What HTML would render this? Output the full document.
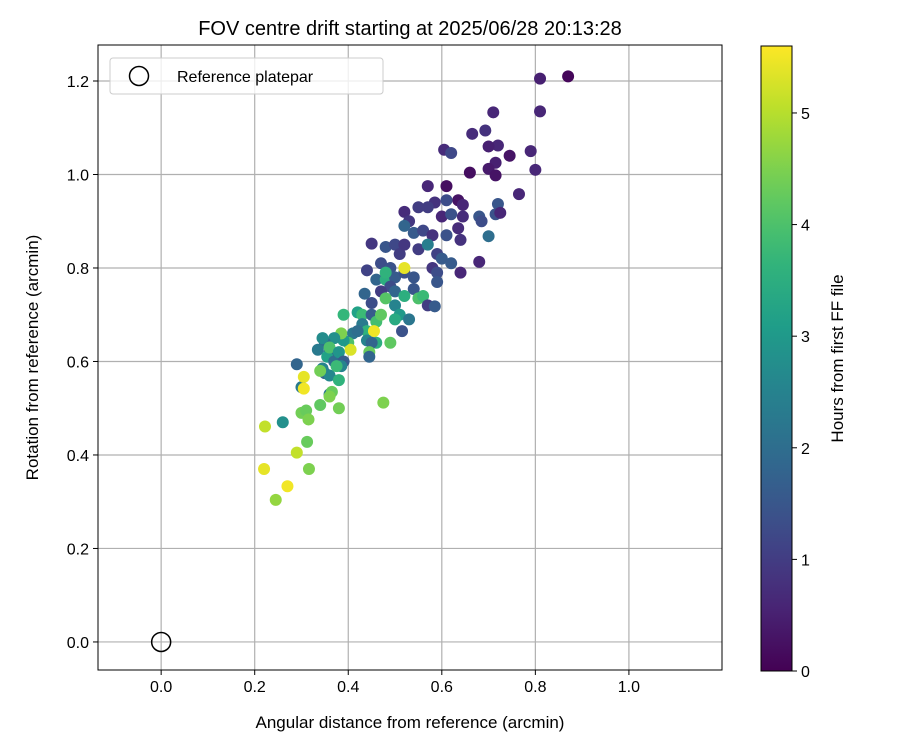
<!DOCTYPE html>
<html><head><meta charset="utf-8"><style>
body{margin:0;background:#fff;font-family:"Liberation Sans",sans-serif}
</style></head><body>
<svg id="c" width="900" height="750" xmlns="http://www.w3.org/2000/svg" font-family="Liberation Sans, DejaVu Sans, sans-serif"></svg>
<script>
const xs=[0.87,0.81,0.81,0.71,0.665,0.693,0.72,0.70,0.605,0.62,0.745,0.79,0.80,0.715,0.70,0.66,0.715,0.765,0.57,0.61,0.635,0.645,0.61,0.585,0.57,0.60,0.645,0.62,0.72,0.715,0.725,0.68,0.685,0.52,0.53,0.55,0.52,0.54,0.56,0.58,0.635,0.64,0.61,0.70,0.45,0.48,0.50,0.51,0.47,0.49,0.52,0.55,0.57,0.59,0.60,0.58,0.62,0.59,0.59,0.68,0.64,0.44,0.46,0.48,0.50,0.52,0.54,0.49,0.50,0.47,0.435,0.45,0.54,0.55,0.56,0.57,0.585,0.52,0.48,0.50,0.51,0.50,0.53,0.515,0.52,0.48,0.42,0.39,0.43,0.45,0.46,0.47,0.43,0.44,0.41,0.42,0.455,0.46,0.44,0.45,0.49,0.445,0.445,0.40,0.405,0.39,0.385,0.37,0.36,0.35,0.345,0.335,0.355,0.36,0.37,0.38,0.39,0.385,0.35,0.36,0.345,0.34,0.375,0.38,0.29,0.30,0.305,0.305,0.36,0.365,0.36,0.34,0.38,0.475,0.30,0.31,0.315,0.222,0.26,0.312,0.29,0.22,0.316,0.27,0.245];
const ys=[1.21,1.205,1.135,1.133,1.087,1.094,1.062,1.06,1.053,1.046,1.04,1.05,1.01,1.025,1.012,1.004,0.998,0.958,0.975,0.975,0.945,0.935,0.945,0.94,0.93,0.91,0.91,0.915,0.937,0.915,0.918,0.91,0.9,0.92,0.9,0.93,0.89,0.875,0.88,0.87,0.885,0.86,0.87,0.868,0.852,0.845,0.85,0.83,0.81,0.80,0.85,0.84,0.85,0.83,0.82,0.80,0.81,0.79,0.77,0.813,0.79,0.795,0.775,0.775,0.78,0.79,0.78,0.76,0.75,0.75,0.745,0.725,0.755,0.735,0.74,0.72,0.718,0.74,0.735,0.72,0.70,0.69,0.69,0.665,0.80,0.79,0.705,0.70,0.70,0.70,0.685,0.70,0.68,0.665,0.66,0.665,0.665,0.64,0.645,0.64,0.64,0.62,0.61,0.64,0.625,0.645,0.66,0.65,0.62,0.64,0.65,0.625,0.61,0.63,0.60,0.62,0.60,0.59,0.575,0.57,0.585,0.58,0.59,0.56,0.594,0.545,0.567,0.542,0.53,0.535,0.525,0.507,0.50,0.512,0.49,0.495,0.476,0.461,0.47,0.428,0.405,0.37,0.37,0.333,0.304];
const hs=[0.1,0.5,0.6,0.6,0.7,0.8,0.6,0.5,0.7,1.2,0.3,0.6,0.6,0.5,0.4,0.2,0.3,0.6,0.6,0.2,0.3,0.6,1.3,0.8,1.0,0.6,0.7,1.4,1.5,1.4,0.6,1.5,1.3,0.7,0.9,1.0,1.8,1.6,1.2,0.8,0.7,0.8,1.4,2.0,0.9,1.5,1.2,1.0,1.3,1.4,0.9,1.0,2.4,1.1,1.6,0.9,1.6,1.3,1.5,0.6,0.6,1.1,1.8,3.5,1.6,1.4,1.5,1.3,1.8,1.0,1.8,1.3,1.5,4.0,3.8,1.0,1.6,3.5,4.1,2.5,3.0,3.4,2.2,1.4,5.4,3.6,3.2,3.7,3.8,1.6,3.9,4.2,2.3,3.6,2.2,2.0,5.5,3.5,2.5,1.8,4.2,4.3,1.8,4.0,5.3,3.0,4.5,2.8,1.8,2.0,2.7,2.3,3.2,4.0,2.0,2.9,1.6,2.5,1.8,2.6,2.5,4.4,3.8,3.6,1.8,2.3,5.4,5.5,2.2,4.3,4.5,4.2,4.4,4.5,4.4,4.3,4.5,5.1,2.8,4.3,5.1,5.4,4.5,5.5,4.7];
const xTicks=[0.0,0.2,0.4,0.6,0.8,1.0];
const yTicks=[0.0,0.2,0.4,0.6,0.8,1.0,1.2];
const cTicks=[0,1,2,3,4,5];
const L=98,R=722,T=45,B=670,X0=-0.135,X1=1.199,Y0=-0.06,Y1=1.277,HMAX=5.6;
const sx=v=>L+(v-X0)/(X1-X0)*(R-L), sy=v=>B-(v-Y0)/(Y1-Y0)*(B-T);
const CL=761,CR=792,CT=46,CB=671, sc=v=>CB-v/HMAX*(CB-CT);
const vir=[[68,1,84],[72,40,120],[62,74,137],[49,104,142],[38,130,142],[31,158,137],[53,183,121],[109,205,89],[180,222,44],[253,231,37]];
function col(t){t=Math.max(0,Math.min(1,t))*(vir.length-1);const i=Math.min(vir.length-2,Math.floor(t)),f=t-i;const a=vir[i],b=vir[i+1];return `rgb(${a.map((v,k)=>Math.round(v+(b[k]-v)*f)).join(',')})`;}
const svg=document.getElementById('c'),NS='http://www.w3.org/2000/svg';
function mk(tag,at,txt,parent){const e=document.createElementNS(NS,tag);for(const k in at)e.setAttribute(k,at[k]);if(txt!==undefined)e.textContent=txt;(parent||svg).appendChild(e);return e;}
let e;
e=mk('text',{x:410,y:35,'text-anchor':'middle','font-size':20},'FOV centre drift starting at 2025/06/28 20:13:28');


xTicks.forEach(v=>{const x=sx(v);
e=mk('line',{x1:x,x2:x,y1:T,y2:B,stroke:'#b0b0b0','stroke-width':1.2});


mk('line',{x1:x,x2:x,y1:B,y2:B+5,stroke:'#000'});
e=mk('text',{x:x,y:B+22,'text-anchor':'middle','font-size':16},v.toFixed(1));

});
yTicks.forEach(v=>{const y=sy(v);
e=mk('line',{x1:L,x2:R,y1:y,y2:y,stroke:'#b0b0b0','stroke-width':1.2});


mk('line',{x1:L-5,x2:L,y1:y,y2:y,stroke:'#000'});
e=mk('text',{x:L-9,y:y+6,'text-anchor':'end','font-size':16},v.toFixed(1));

});
xs.forEach((v,i)=>{e=mk('circle',{cx:sx(v),cy:sy(ys[i]),r:6,fill:col(hs[i]/HMAX)});

});
e=mk('circle',{cx:sx(0),cy:sy(0),r:9.5,fill:'none',stroke:'#000','stroke-width':1.5});


e=mk('rect',{x:L,y:T,width:R-L,height:B-T,fill:'none',stroke:'#000','stroke-width':1});


e=mk('text',{x:410,y:728,'text-anchor':'middle','font-size':17},'Angular distance from reference (arcmin)');


e=mk('text',{x:0,y:0,'text-anchor':'middle','font-size':17,transform:`translate(38,${(T+B)/2}) rotate(-90)`},'Rotation from reference (arcmin)');


const lg=mk('g',{});


mk('rect',{x:110,y:58,width:273,height:36,rx:3,fill:'#fff',stroke:'#ccc','fill-opacity':0.8},undefined,lg);
mk('circle',{cx:139,cy:76,r:9.5,fill:'none',stroke:'#000','stroke-width':1.5},undefined,lg);
e=mk('text',{x:177,y:82,'font-size':16},'Reference platepar',lg);


const defs=mk('defs',{});const gr=mk('linearGradient',{id:'vg',x1:0,y1:1,x2:0,y2:0},undefined,defs);
for(let i=0;i<=20;i++)mk('stop',{offset:i/20,'stop-color':col(i/20)},undefined,gr);
e=mk('rect',{x:CL,y:CT,width:CR-CL,height:CB-CT,fill:'url(#vg)',stroke:'#000','stroke-width':1});


cTicks.forEach(v=>{const y=sc(v);mk('line',{x1:CR,x2:CR+5,y1:y,y2:y,stroke:'#000'});
e=mk('text',{x:CR+9,y:y+6,'font-size':16},String(v));

});
e=mk('text',{x:0,y:0,'text-anchor':'middle','font-size':17,transform:`translate(843,${(CT+CB)/2}) rotate(-90)`},'Hours from first FF file');


</script>
</body></html>
